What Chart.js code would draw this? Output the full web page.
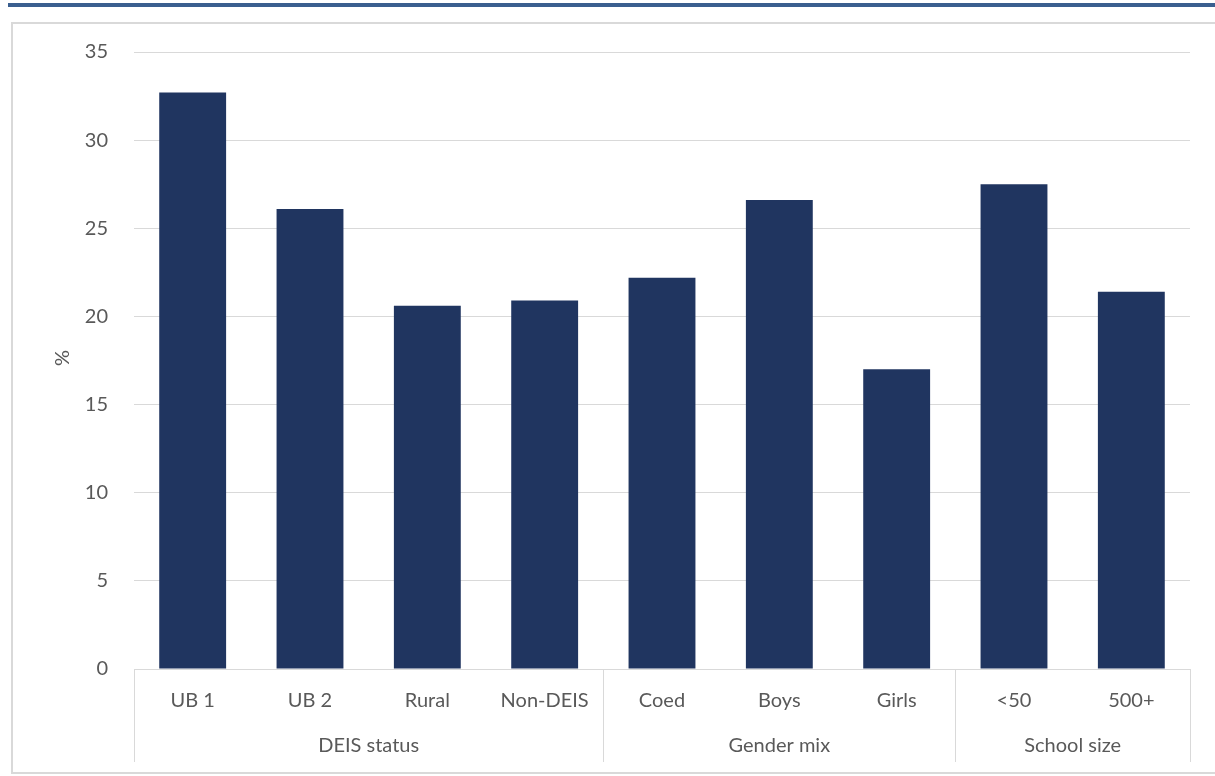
<!DOCTYPE html>
<html lang="en">
<head>
    <meta charset="UTF-8">
    <title>DEIS status, gender mix and school size</title>
    <script src="https://cdn.jsdelivr.net/npm/chart.js"></script>
    <style>
        html, body { margin: 0; padding: 0; background: #fff; }
        #wrap { width: 1215px; height: 776px; }
    </style>
</head>
<body>
    <div id="wrap"><canvas id="chart" width="1215" height="776"></canvas></div>

    <script>
        // categories and values
        const categories = ['UB 1', 'UB 2', 'Rural', 'Non-DEIS', 'Coed', 'Boys', 'Girls', '<50', '500+'];
        const values = [32.7, 26.1, 20.6, 20.9, 22.2, 26.6, 17.0, 27.5, 21.4];
        const groupNames = ['DEIS status', 'Gender mix', 'School size'];
        const groupSizes = [4, 3, 2];
        const yTicks = [0, 5, 10, 15, 20, 25, 30, 35];

        const FONT = 'Lato, "Open Sans", sans-serif';
        const FONT_SIZE = 20;
        const textColor = '#595959';
        const lineColor = '#d9d9d9';

        // frame, '%' title, group labels and separators
        const decor = {
            id: 'decor',
            beforeDraw(chart) {
                const c = chart.ctx;
                c.save();
                c.fillStyle = '#3a5f8f';
                c.fillRect(8, 3, 1207, 4);
                c.strokeStyle = lineColor;
                c.lineWidth = 2;
                c.strokeRect(12, 23, 1215, 750);
                c.restore();
            },
            afterDraw(chart) {
                const c = chart.ctx;
                const x = chart.scales.x;
                const area = chart.chartArea;
                c.save();
                c.fillStyle = textColor;
                c.font = FONT_SIZE + 'px ' + FONT;
                c.textAlign = 'center';
                c.textBaseline = 'middle';

                // y title
                c.save();
                c.translate(63, 358);
                c.rotate(-Math.PI / 2);
                c.fillText('%', 0, 0);
                c.restore();

                // group separators + labels
                c.strokeStyle = lineColor;
                c.lineWidth = 1;
                const half = (x.getPixelForValue(1) - x.getPixelForValue(0)) / 2;
                let start = 0;
                const edges = [x.getPixelForValue(0) - half];
                groupSizes.forEach((n, i) => {
                    const left = x.getPixelForValue(start) - half;
                    const right = x.getPixelForValue(start + n - 1) + half;
                    edges.push(right);
                    c.fillText(groupNames[i], (left + right) / 2, 746);
                    start += n;
                });
                edges.forEach(px => {
                    const xx = Math.round(px) + 0.5;
                    c.beginPath();
                    c.moveTo(xx, area.bottom);
                    c.lineTo(xx, 762);
                    c.stroke();
                });
                c.restore();
            }
        };

        new Chart(document.getElementById('chart'), {
            type: 'bar',
            data: {
                labels: categories,
                datasets: [{
                    data: values,
                    backgroundColor: '#203560',
                    barPercentage: 0.57,
                    categoryPercentage: 1.0
                }]
            },
            options: {
                responsive: false,
                animation: false,
                layout: { padding: { left: 12, top: 52, right: 25, bottom: 0 } },
                plugins: {
                    legend: { display: false },
                    tooltip: { enabled: false }
                },
                scales: {
                    x: {
                        grid: { display: false, drawTicks: false },
                        border: { display: true, color: lineColor, width: 1 },
                        ticks: {
                            color: textColor,
                            font: { family: FONT, size: FONT_SIZE },
                            padding: 20,
                            maxRotation: 0,
                            autoSkip: false
                        },
                        afterFit(s) { s.height = 107; }
                    },
                    y: {
                        min: 0,
                        max: 35,
                        afterBuildTicks(s) { s.ticks = yTicks.map(v => ({ value: v })); },
                        grid: { color: lineColor, lineWidth: 1, drawTicks: false },
                        border: { display: false },
                        ticks: {
                            color: textColor,
                            font: { family: FONT, size: FONT_SIZE },
                            padding: 26
                        },
                        afterFit(s) { s.width = 122; }
                    }
                }
            },
            plugins: [decor]
        });
    </script>
</body>
</html>
